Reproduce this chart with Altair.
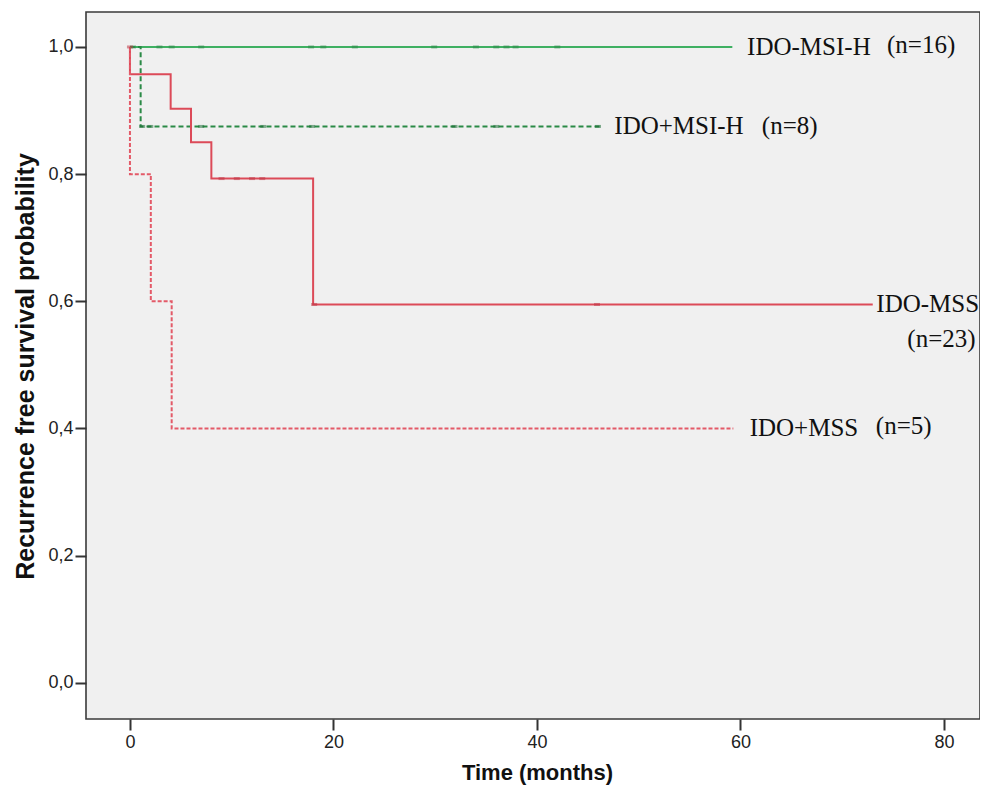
import altair as alt
import pandas as pd

# ---- data ----
groups = ["IDO-MSI-H", "IDO+MSI-H", "IDO-MSS", "IDO+MSS"]
t_msih_neg = [0, 59.2]
s_msih_neg = [1.0, 1.0]
t_msih_pos = [0, 1.05, 46.3]
s_msih_pos = [1.0, 0.875, 0.875]
t_mss_neg = [0, 0, 4.0, 6.0, 8.0, 18.0, 73.0]
s_mss_neg = [1.0, 0.957, 0.903, 0.850, 0.793, 0.595, 0.595]
t_mss_pos = [0, 0, 2.05, 4.1, 59.3]
s_mss_pos = [1.0, 0.8, 0.6, 0.4, 0.4]

# censoring marks
c_msih_neg_t = [0.3, 2.9, 4.1, 7.0, 17.8, 19.0, 22.1, 29.9, 34.0, 36.0, 37.0, 37.9, 42.0]
c_msih_neg_s = [1.0] * len(c_msih_neg_t)
c_msih_pos_t = [1.2, 2.0, 7.0, 13.1, 17.9, 31.9, 36.0, 46.0]
c_msih_pos_s = [0.875] * len(c_msih_pos_t)
c_mss_neg_t = [0.0, 9.0, 10.5, 12.0, 13.0, 18.1, 45.9]
c_mss_neg_s = [1.0, 0.793, 0.793, 0.793, 0.793, 0.595, 0.595]

label_text = ["IDO-MSI-H", "(n=16)", "IDO+MSI-H", "(n=8)", "IDO-MSS", "(n=23)", "IDO+MSS", "(n=5)"]
label_t = [60.65, 74.4, 47.6, 62.1, 73.35, 76.4, 60.9, 73.3]
label_s = [1.0, 1.003, 0.875, 0.875, 0.596, 0.541, 0.401, 0.404]

colors = ["#3fb062", "#2a8a46", "#dc4a58", "#e35a68"]
mark_colors = ["#2f8a4a", "#1f7038", "#c03a48", "#c8505b"]
dashes = [[1, 0], [5, 3], [1, 0], [4, 2]]

rows = []
for g, ts, ss in zip(groups, [t_msih_neg, t_msih_pos, t_mss_neg, t_mss_pos],
                     [s_msih_neg, s_msih_pos, s_mss_neg, s_mss_pos]):
    for i, (t, s) in enumerate(zip(ts, ss)):
        rows.append({"group": g, "t": t, "s": s, "i": i})
df = pd.DataFrame(rows)

crow = []
for g, ts, ss in zip(groups[:3], [c_msih_neg_t, c_msih_pos_t, c_mss_neg_t],
                     [c_msih_neg_s, c_msih_pos_s, c_mss_neg_s]):
    for t, s in zip(ts, ss):
        crow.append({"group": g, "t": t, "s": s})
cdf = pd.DataFrame(crow)

ldf = pd.DataFrame({"text": label_text, "t": label_t, "s": label_s})

xscale = alt.Scale(domain=[-4.32, 83.54], nice=False, zero=False)
yscale = alt.Scale(domain=[-0.057, 1.055], nice=False, zero=False)

xaxis = alt.Axis(values=[0, 20, 40, 60, 80], title="Time (months)", grid=False,
                 domain=False, tickSize=11, tickWidth=2, tickColor="#333",
                 labelFontSize=18, labelColor="#222", labelPadding=3,
                 labelFont="Liberation Sans Narrow, Liberation Sans",
                 titleFontSize=22, titleFont="Liberation Sans", titleFontWeight="bold",
                 titleColor="#111", titleX=451, titleY=60, titleBaseline="alphabetic",
                 titleAnchor="middle", titleAlign="center")
yaxis = alt.Axis(values=[0, 0.2, 0.4, 0.6, 0.8, 1.0], title="Recurrence free survival probability",
                 grid=False, domain=False, tickSize=11, tickWidth=2, tickColor="#333",
                 labelExpr="replace(format(datum.value, '.1f'), '.', ',')",
                 labelFontSize=18, labelColor="#222", labelPadding=2,
                 labelFont="Liberation Sans Narrow, Liberation Sans",
                 titleFontSize=25, titleFont="Liberation Sans", titleFontWeight="bold",
                 titleColor="#111", titleAngle=-90, titleX=-53, titleY=354,
                 titleBaseline="alphabetic", titleAlign="center")

lines = alt.Chart(df).mark_line(interpolate="step-after", strokeWidth=2).encode(
    x=alt.X("t:Q", scale=xscale, axis=xaxis),
    y=alt.Y("s:Q", scale=yscale, axis=yaxis),
    color=alt.Color("group:N", scale=alt.Scale(domain=groups, range=colors), legend=None),
    strokeDash=alt.StrokeDash("group:N", scale=alt.Scale(domain=groups, range=dashes), legend=None),
    order="i:Q",
)

cens = alt.Chart(cdf).mark_tick(orient="horizontal", size=6, thickness=3, opacity=0.55).encode(
    x=alt.X("t:Q", scale=xscale),
    y=alt.Y("s:Q", scale=yscale),
    color=alt.Color("group:N", scale=alt.Scale(domain=groups, range=mark_colors), legend=None),
)

labels = alt.Chart(ldf).mark_text(align="left", baseline="middle", font="Liberation Serif",
                                  fontSize=25, color="#111").encode(
    x=alt.X("t:Q", scale=xscale),
    y=alt.Y("s:Q", scale=yscale),
    text="text:N",
)

chart = alt.layer(lines, cens, labels).resolve_scale(color="independent").properties(
    width=894, height=707,
    autosize=alt.AutoSizeParams(type="none"),
    padding={"left": 78, "top": 4, "right": 0, "bottom": 66},
    background="white",
).configure_view(fill="#f0f0f0", stroke="#3a3a3a", strokeWidth=1.6)

chart.save("out.html", embed_options={"renderer": "svg", "actions": False})
